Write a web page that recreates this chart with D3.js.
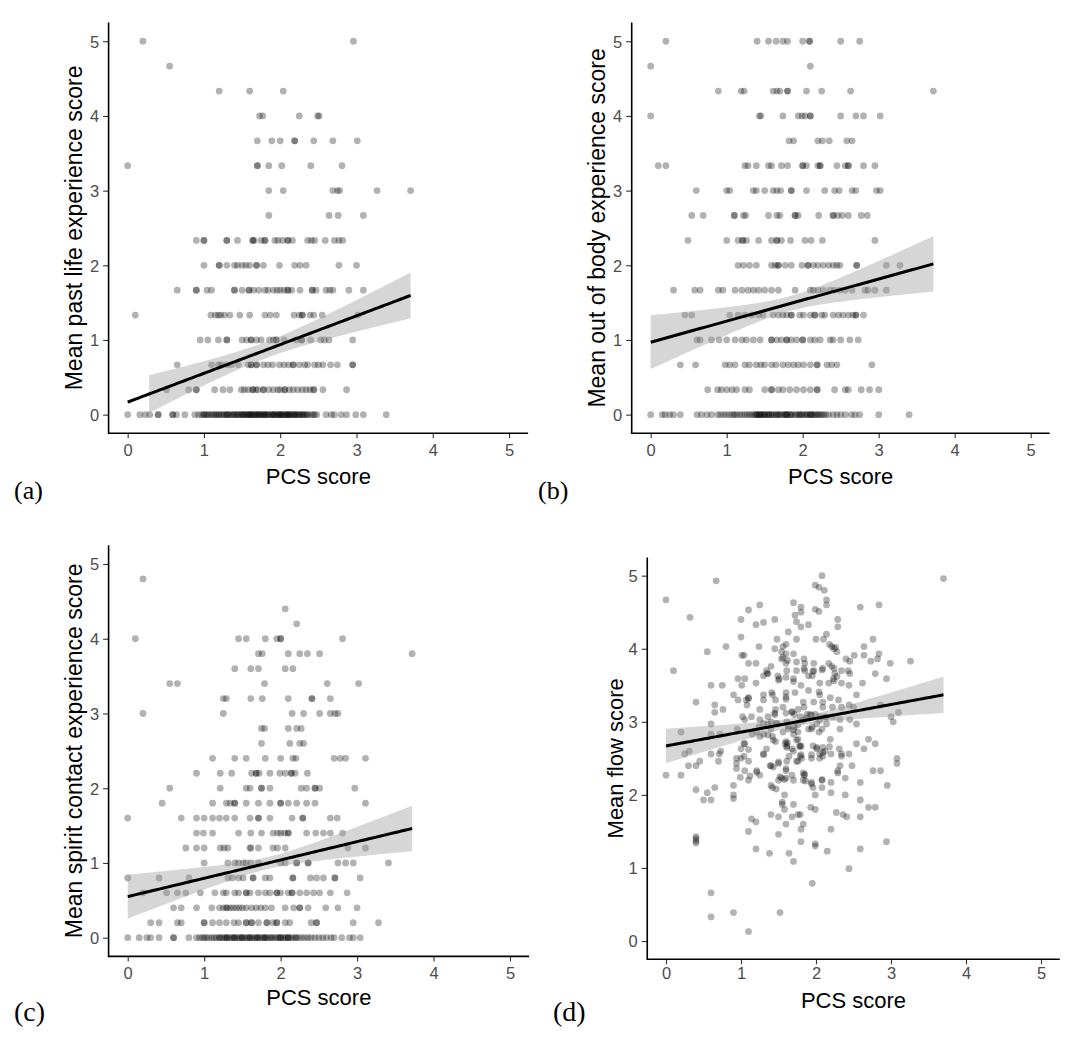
<!DOCTYPE html>
<html><head><meta charset="utf-8">
<script src="https://cdn.jsdelivr.net/npm/d3@7"></script>
<style>body{margin:0;background:#fff}svg{display:block}</style>
</head><body>
<svg id="chart" width="1082" height="1044"></svg>
<script>
// ---------------- DATA ----------------
const xTickValues = [0, 1, 2, 3, 4, 5];
const yTickValues = [0, 1, 2, 3, 4, 5];
const xTitle = "PCS score";
const yTitles = ["Mean past life experience score", "Mean out of body experience score",
                 "Mean spirit contact experience score", "Mean flow score"];
const panelTags = ["(a)", "(b)", "(c)", "(d)"];

// (a) past life: y levels and PCS values in each level
const pastLifeLevels = [0, 1/3, 2/3, 1, 4/3, 5/3, 2, 7/3, 8/3, 3, 10/3, 11/3, 4, 13/3, 14/3, 5];
const pastLifeX = [
 [0,0.16,0.23,0.29,0.40,0.40,0.59,0.59,0.64,0.75,0.88,0.93,0.97,1.0,1.0,1.03,1.07,1.1,1.12,1.15,1.19,1.2,1.23,1.27,1.3,1.3,1.34,1.37,1.4,1.42,1.45,1.47,1.5,1.5,1.53,1.55,1.58,1.6,1.6,1.63,1.65,1.68,1.7,1.7,1.72,1.75,1.78,1.8,1.8,1.82,1.85,1.88,1.9,1.9,1.93,1.95,1.98,2.0,2.0,2.03,2.05,2.08,2.1,2.1,2.13,2.15,2.18,2.2,2.2,2.23,2.26,2.3,2.3,2.33,2.36,2.4,2.43,2.45,2.48,2.6,2.67,2.71,2.8,2.87,2.99,3.09,3.39,
  1.05,1.16,1.25,1.32,1.38,1.44,1.52,1.57,1.62,1.66,1.73,1.77,1.84,1.92,1.97,2.02,2.07,2.12,2.17,2.24,2.28,2.35],
 [0.51,0.8,0.9,0.9,1.14,1.25,1.34,1.49,1.53,1.58,1.64,1.64,1.68,1.71,1.78,1.78,1.85,1.91,1.97,2.0,2.06,2.06,2.12,2.17,2.23,2.29,2.34,2.39,2.44,2.44,2.56,2.87],
 [0.65,1.10,1.19,1.23,1.30,1.36,1.45,1.58,1.62,1.62,1.69,1.69,1.78,1.84,1.9,1.99,2.05,2.11,2.17,2.17,2.25,2.32,2.36,2.45,2.5,2.56,2.66,2.75,2.95,2.95],
 [0.95,1.05,1.19,1.30,1.30,1.5,1.56,1.62,1.62,1.69,1.75,1.86,1.91,1.95,1.95,2.05,2.21,2.28,2.28,2.40,2.53,2.58,2.64,2.95],
 [0.1,1.09,1.15,1.19,1.22,1.27,1.34,1.47,1.60,1.80,1.87,1.95,2.18,2.25,2.29,2.29,2.39,2.44,2.55,3.02],
 [0.65,0.90,0.90,1.04,1.10,1.40,1.40,1.5,1.59,1.59,1.65,1.72,1.80,1.84,1.91,1.96,2.0,2.05,2.10,2.10,2.15,2.26,2.42,2.42,2.47,2.60,2.65,2.69,2.90,3.09],
 [1.0,1.20,1.20,1.30,1.40,1.44,1.5,1.55,1.60,1.69,1.69,1.78,1.99,2.19,2.26,2.34,2.77,3.0],
 [0.90,1.0,1.0,1.30,1.30,1.44,1.64,1.64,1.66,1.75,1.80,1.80,1.93,1.97,2.03,2.10,2.10,2.16,2.36,2.41,2.45,2.59,2.71,2.77,2.82],
 [1.85,2.64,2.76,3.09],
 [1.85,2.04,2.69,2.75,2.78,3.27,3.71],
 [0,1.70,1.70,1.85,2.02,2.40,2.81],
 [1.70,1.89,2.0,2.19,2.19,2.44,2.69,3.01],
 [1.73,1.77,2.25,2.49,2.51],
 [1.2,1.6,2.04],
 [0.55],
 [0.2,2.96]
];

// (b) out of body
const outOfBodyLevels = [0, 1/3, 2/3, 1, 4/3, 5/3, 2, 7/3, 8/3, 3, 10/3, 11/3, 4, 13/3, 14/3, 5];
const outOfBodyX = [
 [0,0.15,0.19,0.25,0.30,0.39,0.61,0.67,0.74,0.80,0.88,0.92,0.96,1.0,1.04,1.08,1.1,1.13,1.17,1.2,1.24,1.27,1.3,1.33,1.36,1.4,1.4,1.43,1.43,1.46,1.48,1.5,1.5,1.53,1.56,1.58,1.6,1.62,1.65,1.68,1.7,1.72,1.75,1.78,1.79,1.8,1.83,1.86,1.9,1.92,1.95,1.98,2.0,2.03,2.06,2.1,2.1,2.13,2.16,2.2,2.22,2.25,2.3,2.34,2.4,2.45,2.5,2.56,2.64,2.69,2.75,3.0,3.4,
  1.38,1.45,1.55,1.66,1.77,1.85,1.96,2.05,2.12,2.18,2.27],
 [0.75,0.88,0.93,1.0,1.07,1.13,1.24,1.30,1.50,1.59,1.59,1.68,1.74,1.83,1.92,2.01,2.10,2.19,2.19,2.42,2.56,2.60,2.77,2.88,3.0],
 [0.39,0.59,0.98,1.04,1.11,1.24,1.30,1.39,1.45,1.5,1.59,1.65,1.74,1.81,1.88,1.94,2.01,2.10,2.19,2.19,2.32,2.38,2.45,2.91],
 [0.61,0.65,0.80,0.90,1.0,1.11,1.20,1.26,1.35,1.44,1.59,1.59,1.66,1.72,1.79,1.79,1.85,1.92,2.0,2.0,2.10,2.16,2.23,2.36,2.40,2.50,2.62,2.73],
 [0.45,0.54,1.04,1.15,1.24,1.33,1.42,1.48,1.61,1.68,1.74,1.79,1.85,1.85,1.96,2.01,2.10,2.16,2.16,2.25,2.29,2.40,2.47,2.53,2.60,2.66,2.70,2.70,2.80],
 [0.30,0.58,0.65,0.89,0.95,1.11,1.20,1.28,1.35,1.42,1.50,1.59,1.68,1.90,2.10,2.14,2.20,2.27,2.36,2.42,2.49,2.56,2.65,2.82,2.86,2.95,3.10],
 [1.15,1.22,1.30,1.39,1.59,1.64,1.68,1.68,1.77,1.85,1.99,2.07,2.07,2.14,2.20,2.27,2.34,2.40,2.45,2.49,2.71,2.71,3.10,3.28],
 [0.49,1.0,1.15,1.21,1.21,1.26,1.42,1.59,1.66,1.66,1.72,1.84,2.03,2.11,2.26,2.95],
 [0.54,0.69,1.10,1.10,1.22,1.25,1.55,1.66,1.70,1.90,1.90,1.94,2.21,2.40,2.40,2.46,2.52,2.60,2.77,2.85],
 [0.60,1.0,1.04,1.35,1.39,1.50,1.61,1.66,1.71,1.85,1.85,2.05,2.29,2.42,2.48,2.65,2.70,2.97,3.02],
 [0.10,0.20,1.24,1.28,1.39,1.55,1.59,1.72,1.80,2.0,2.0,2.05,2.20,2.23,2.23,2.45,2.56,2.60,2.60,2.80,2.95],
 [1.82,1.88,2.20,2.26,2.35,2.58,2.65],
 [0,1.43,1.45,1.74,1.94,1.99,2.03,2.10,2.10,2.50,2.70,2.80,3.02],
 [0.89,1.19,1.23,1.61,1.66,1.70,1.80,1.80,2.05,2.25,2.63,3.72],
 [0,2.10],
 [0.20,1.40,1.55,1.65,1.74,1.80,2.0,2.09,2.09,2.50,2.75]
];

// (c) spirit contact
const spiritLevels = [0,0.2,0.4,0.6,0.8,1.0,1.2,1.4,1.6,1.8,2.0,2.2,2.4,2.6,2.8,3.0,3.2,3.4,3.6,3.8,4.0,4.2,4.4,4.8];
const spiritX = [
 [0,0.15,0.25,0.30,0.41,0.60,0.60,0.80,0.9,0.94,0.98,1.0,1.03,1.06,1.1,1.13,1.16,1.2,1.2,1.23,1.26,1.3,1.3,1.33,1.36,1.4,1.4,1.43,1.46,1.5,1.5,1.53,1.56,1.6,1.6,1.63,1.66,1.7,1.7,1.73,1.76,1.8,1.8,1.83,1.86,1.9,1.93,1.96,2.0,2.0,2.03,2.06,2.1,2.1,2.13,2.16,2.2,2.2,2.24,2.28,2.32,2.36,2.4,2.45,2.5,2.55,2.6,2.66,2.7,2.8,2.9,2.95,3.04,
  1.28,1.38,1.48,1.58,1.68,1.78,1.88,1.98,2.08],
 [0.30,0.41,0.65,0.70,1.0,1.0,1.11,1.20,1.29,1.39,1.45,1.55,1.55,1.62,1.62,1.71,1.82,1.82,1.9,1.95,1.95,2.06,2.12,2.40,2.47,2.47,2.95,3.28],
 [0.60,0.70,0.90,1.10,1.20,1.25,1.29,1.3,1.34,1.38,1.42,1.46,1.5,1.55,1.62,1.68,1.74,1.80,1.88,2.06,2.17,2.25,2.25,2.36,2.59,2.75,3.0],
 [0.20,0.51,0.65,0.76,0.95,1.14,1.25,1.29,1.40,1.45,1.55,1.55,1.6,1.71,1.80,1.86,1.95,1.95,2.0,2.10,2.15,2.15,2.25,2.34,2.43,2.51,2.65,2.87],
 [0,0.41,0.80,1.31,1.37,1.45,1.51,1.64,1.64,1.8,1.86,2.16,2.16,2.39,2.47,2.56,2.71,2.71,3.04],
 [1.0,1.31,1.40,1.45,1.51,1.55,1.61,1.71,2.0,2.06,2.21,2.21,2.36,2.36,2.75,2.85,2.95,3.41],
 [0.76,0.90,1.0,1.21,1.26,1.31,1.6,1.61,1.71,1.90,1.96,2.06,2.88,3.11],
 [0.90,0.99,1.11,1.45,1.61,1.75,1.90,1.96,2.0,2.05,2.10,2.10,2.34,2.46,2.56,2.65,2.81],
 [0,0.70,0.90,1.0,1.11,1.20,1.29,1.40,1.60,1.71,1.71,1.86,2.15,2.29,2.29,2.65,2.74],
 [0.45,1.11,1.29,1.34,1.40,1.40,1.55,1.71,1.86,2.0,2.0,2.10,2.21,2.34,2.45,3.11],
 [0.55,1.21,1.55,1.60,1.75,1.75,1.86,2.27,2.34,2.45,2.45,2.51,2.97],
 [0.90,1.21,1.36,1.62,1.68,1.68,1.72,1.86,1.99,2.06,2.14,2.14,2.19,2.35],
 [1.11,1.40,1.55,1.80,2.0,2.16,2.20,2.70,2.78,2.85,3.11],
 [1.75,2.12,2.25,2.30],
 [1.75,1.79,2.10,2.21,2.27],
 [0.20,1.25,2.15,2.30,2.51,2.65,2.71,2.75],
 [1.25,1.29,1.61,1.76,2.10,2.41,2.41,2.65],
 [0.55,0.65,1.79,2.61,3.02],
 [1.40,1.61,1.71,2.06,2.16],
 [1.71,1.76,2.10,2.25,2.35,2.51,3.72],
 [0.10,1.45,1.55,1.80,1.95,2.0,2.0,2.81],
 [2.21],
 [2.06],
 [0.20]
];

// (d) flow: [PCS, flow]
const flowData = [[2.08,5.0],[3.70,4.96],[0.67,4.93],[0.0,4.67],[1.99,4.87],[2.04,4.84],[2.11,4.80],[2.14,4.67],[1.70,4.63],[1.80,4.57],[1.80,4.50],[1.72,4.46],[1.99,4.54],[2.04,4.51],[2.14,4.60],[2.59,4.57],[2.84,4.60],[1.10,4.53],[1.25,4.60],[0.32,4.43],[1.0,4.40],[1.20,4.33],[1.30,4.36],[1.45,4.40],[1.74,4.37],[1.80,4.30],[1.90,4.33],[2.29,4.40],[2.29,4.30],[1.63,4.23],[1.0,4.16],[1.48,4.13],[1.60,4.06],[1.56,4.03],[1.74,4.13],[2.0,4.13],[2.10,4.13],[2.14,4.20],[2.18,4.06],[2.21,4.03],[2.24,4.0],[2.64,4.03],[2.76,4.13],[0.80,4.03],[1.24,4.03],[0.55,3.96],[1.01,3.91],[1.04,3.91],[1.45,4.0],[1.54,3.96],[1.60,3.93],[1.70,3.93],[1.84,3.86],[1.85,3.80],[1.54,3.86],[1.60,3.80],[1.97,3.80],[2.17,3.80],[2.21,3.76],[2.28,3.96],[2.40,3.86],[2.45,3.83],[2.51,3.91],[2.64,3.91],[2.73,3.83],[2.82,3.86],[2.84,3.93],[2.99,3.80],[3.26,3.83],[0.10,3.70],[1.10,3.80],[1.20,3.80],[1.40,3.76],[1.34,3.70],[1.36,3.66],[1.30,3.63],[1.61,3.70],[1.74,3.70],[1.84,3.73],[1.85,3.70],[1.97,3.70],[2.09,3.73],[2.25,3.66],[2.34,3.70],[2.43,3.70],[2.23,3.59],[2.24,3.56],[2.34,3.53],[2.45,3.66],[2.79,3.66],[2.94,3.59],[0.96,3.59],[1.05,3.59],[1.20,3.53],[1.51,3.59],[1.49,3.63],[1.70,3.59],[1.80,3.50],[1.90,3.63],[1.95,3.63],[2.05,3.53],[2.44,3.50],[2.62,3.53],[0.60,3.50],[0.75,3.50],[1.01,3.50],[0.90,3.37],[0.96,3.30],[1.07,3.30],[1.10,3.33],[1.30,3.37],[1.30,3.30],[1.41,3.40],[1.42,3.37],[1.46,3.30],[1.60,3.40],[1.60,3.34],[1.60,3.31],[1.72,3.40],[1.90,3.43],[2.04,3.41],[2.05,3.37],[2.19,3.33],[2.30,3.30],[2.54,3.37],[0.40,3.27],[0.65,3.23],[0.76,3.17],[0.65,3.13],[1.08,3.23],[1.25,3.17],[1.46,3.17],[1.56,3.20],[1.83,3.27],[1.84,3.20],[1.76,3.17],[1.97,3.27],[2.09,3.27],[2.09,3.20],[2.22,3.20],[2.34,3.20],[2.44,3.23],[2.50,3.20],[2.86,3.23],[3.10,3.13],[0.60,2.97],[0.72,2.83],[0.60,2.83],[1.02,3.07],[1.14,3.07],[1.05,3.03],[1.25,3.03],[1.36,3.07],[1.45,3.10],[1.68,3.13],[1.71,3.10],[1.79,3.07],[1.88,3.10],[1.92,3.10],[1.99,3.10],[2.05,3.07],[2.12,3.07],[2.23,3.07],[2.32,3.03],[2.45,3.03],[2.54,2.97],[3.00,3.07],[3.03,3.00],[0.20,2.86],[0.95,2.90],[1.24,2.93],[1.36,2.97],[1.40,2.90],[1.48,2.97],[1.61,3.00],[1.71,2.93],[1.76,2.86],[1.90,2.90],[1.95,2.93],[2.01,2.97],[2.08,2.90],[2.14,2.97],[2.32,2.90],[1.15,2.83],[1.21,2.86],[1.30,2.83],[1.42,2.80],[1.46,2.73],[1.56,2.86],[1.63,2.90],[1.70,2.83],[1.76,2.76],[2.04,2.86],[2.19,2.76],[2.70,2.76],[2.79,2.70],[0.25,2.56],[0.31,2.60],[0.60,2.56],[0.71,2.56],[0.73,2.60],[1.0,2.63],[1.04,2.70],[1.34,2.63],[1.30,2.56],[1.60,2.73],[1.59,2.70],[1.61,2.67],[1.68,2.63],[1.78,2.67],[1.80,2.67],[1.96,2.67],[2.01,2.63],[2.12,2.60],[2.05,2.56],[2.31,2.63],[2.34,2.56],[2.44,2.56],[2.54,2.70],[2.64,2.63],[0.30,2.40],[0.40,2.40],[0.45,2.46],[0.70,2.46],[0.94,2.50],[0.94,2.43],[0.94,2.36],[1.10,2.46],[1.04,2.53],[1.0,2.50],[1.39,2.40],[1.50,2.43],[1.61,2.46],[1.64,2.53],[1.74,2.46],[1.76,2.46],[1.79,2.53],[1.81,2.50],[1.94,2.50],[2.05,2.50],[2.09,2.53],[2.18,2.66],[2.20,2.56],[2.32,2.40],[2.34,2.53],[2.48,2.40],[2.76,2.33],[2.86,2.33],[3.08,2.50],[3.08,2.43],[0.0,2.27],[0.20,2.27],[0.40,2.07],[0.55,2.03],[0.65,2.10],[0.50,1.93],[0.60,1.93],[1.05,2.33],[1.10,2.20],[1.21,2.33],[1.25,2.27],[1.40,2.40],[1.40,2.13],[1.42,2.10],[1.50,2.20],[1.54,2.23],[1.60,2.23],[1.60,2.33],[1.68,2.27],[1.70,2.20],[1.83,2.30],[1.84,2.27],[1.83,2.20],[1.94,2.17],[1.96,2.10],[2.08,2.20],[2.20,2.17],[2.29,2.30],[2.29,2.33],[2.39,2.23],[2.59,2.17],[2.95,2.13],[0.90,2.13],[0.90,2.00],[1.58,2.00],[1.99,2.00],[2.20,2.03],[2.39,2.00],[1.55,1.90],[1.55,1.87],[1.58,1.80],[1.70,1.87],[1.79,1.73],[1.40,1.73],[1.50,1.70],[1.60,1.60],[1.68,1.70],[1.76,1.73],[1.83,1.60],[1.80,1.53],[1.93,1.83],[1.99,1.80],[2.27,1.76],[2.36,1.73],[2.41,1.70],[2.20,1.53],[2.59,1.93],[2.59,1.70],[2.70,1.83],[2.79,1.83],[1.14,1.67],[1.20,1.63],[1.10,1.50],[1.50,1.46],[0.40,1.43],[0.40,1.40],[0.40,1.37],[0.40,1.34],[1.80,1.36],[1.99,1.33],[1.99,1.30],[2.15,1.23],[1.20,1.26],[1.38,1.20],[1.64,1.20],[1.70,1.09],[2.59,1.26],[2.94,1.36],[2.44,0.99],[1.95,0.79],[0.60,0.66],[0.60,0.33],[0.90,0.39],[1.52,0.39],[1.10,0.13],
 [1.12,2.26],[1.21,2.31],[0.99,2.24],[0.90,1.95],[1.52,2.25],[1.58,2.21],[1.47,2.08],[1.86,2.19],[1.85,2.28],[2.08,2.10],[2.08,2.21],[1.94,2.15],[1.43,2.38],[1.50,2.45],[1.60,2.36],[1.30,2.55],[1.10,2.62],[1.05,2.70],[1.61,2.65],[1.70,2.60],[1.79,2.66],[1.80,2.55],[1.94,2.55],[2.09,2.58],[2.09,2.65],[2.01,2.65],[1.74,2.75],[1.62,2.71],[1.25,2.80],[1.36,2.82],[1.43,2.75],[1.30,2.98],[1.40,3.00],[1.47,2.98],[1.63,2.94],[1.70,2.89],[1.76,2.96],[1.83,3.02],[1.87,3.05],[1.94,3.09],[2.05,3.02],[2.14,3.06],[1.94,2.90],[1.60,3.12],[1.68,3.14],[1.45,3.12],[1.10,3.32],[1.60,3.61],[1.70,3.55],[1.62,3.84],[1.56,3.88],[1.74,3.82],[2.17,3.53],[2.28,3.62],[2.24,3.73],[2.26,4.02],[1.96,3.69],[2.08,3.71],[1.35,3.66],[1.50,3.57]];

// fitted linear smooth: intercept, slope, CI half-width parameters
const fitIntercept = [0.168, 0.97, 0.55, 2.67];
const fitSlope     = [0.385, 0.282, 0.245, 0.189];
const bandCenter   = [1.8, 1.83, 1.83, 1.8];
const bandH0       = [0.11, 0.10, 0.08, 0.06];
const bandK        = [0.15, 0.189, 0.155, 0.127];

// ---------------- LAYOUT ----------------
const layouts = [
 {left:108.6, right:528.1, top:22.6, bottom:433.3, yTitleX:82, yTitleSize:23, xTitleY:483.5, tickLabY:456.5, tagX:14, tagY:499, tagSize:26},
 {left:631.7, right:1049.7, top:22.6, bottom:433.3, yTitleX:605, yTitleSize:23, xTitleY:483.5, tickLabY:456.5, tagX:538, tagY:499, tagSize:26},
 {left:108.6, right:529.1, top:545.3, bottom:956.4, yTitleX:82, yTitleSize:23, xTitleY:1005, tickLabY:979, tagX:14, tagY:1021, tagSize:28},
 {left:647.25, right:1059.75, top:557.4, bottom:959.3, yTitleX:623, yTitleSize:22, xTitleY:1008, tickLabY:979, tagX:553, tagY:1021, tagSize:28}
];

const levelPoints = (levels, rows) => levels.flatMap((lv, i) => rows[i].map(x => ({x, y: lv})));
const panelPoints = [
  levelPoints(pastLifeLevels, pastLifeX),
  levelPoints(outOfBodyLevels, outOfBodyX),
  levelPoints(spiritLevels, spiritX),
  flowData.map(d => ({x: d[0], y: d[1]}))
];

const svg = d3.select("#chart");
const FONT = "'Liberation Sans', Arial, Helvetica, sans-serif";

panelPoints.forEach((pts, i) => {
  const L = layouts[i];
  const x = d3.scaleLinear().domain([-0.25, 5.25]).range([L.left, L.right]);
  const y = d3.scaleLinear().domain([-0.25, 5.25]).range([L.bottom, L.top]);
  const g = svg.append("g");

  // points
  g.append("g").selectAll("circle").data(pts).join("circle")
    .attr("cx", d => x(d.x)).attr("cy", d => y(d.y)).attr("r", 3.4)
    .attr("fill", "#000").attr("fill-opacity", 0.3);

  // smooth
  const xmin = d3.min(pts, d => d.x), xmax = d3.max(pts, d => d.x);
  const grid = d3.range(80).map(k => xmin + (xmax - xmin) * k / 79);
  const fit = grid.map(gx => {
    const m = fitIntercept[i] + fitSlope[i] * gx;
    const hw = Math.sqrt(bandH0[i] ** 2 + bandK[i] ** 2 * (gx - bandCenter[i]) ** 2);
    return {x: gx, m, lo: m - hw, hi: m + hw};
  });
  const band = fit.filter(d => d.lo >= 0 && d.hi <= 5);
  g.append("path").datum(band)
    .attr("d", d3.area().x(d => x(d.x)).y0(d => y(d.lo)).y1(d => y(d.hi)))
    .attr("fill", "#999999").attr("fill-opacity", 0.4);
  g.append("path").datum(fit)
    .attr("d", d3.line().x(d => x(d.x)).y(d => y(d.m)))
    .attr("fill", "none").attr("stroke", "#000").attr("stroke-width", 3);

  // axes
  const xAxis = g.append("g").attr("transform", `translate(0,${L.bottom})`)
    .call(d3.axisBottom(x).tickValues(xTickValues).tickSize(5).tickPadding(0).tickFormat(d3.format("d")));
  const yAxis = g.append("g").attr("transform", `translate(${L.left},0)`)
    .call(d3.axisLeft(y).tickValues(yTickValues).tickSize(5.5).tickPadding(4).tickFormat(d3.format("d")));
  [xAxis, yAxis].forEach(a => {
    a.select(".domain").remove();
    a.selectAll(".tick line").attr("stroke", "#333").attr("stroke-width", 1.1);
    a.selectAll(".tick text").attr("fill", "#4D4D4D").style("font-family", FONT).style("font-size", "16.5px");
  });
  xAxis.selectAll(".tick text").attr("dy", null).attr("y", L.tickLabY - L.bottom);
  yAxis.selectAll(".tick text").attr("dy", "0.36em");
  g.append("line").attr("x1", L.left).attr("x2", L.right).attr("y1", L.bottom).attr("y2", L.bottom)
    .attr("stroke", "#000").attr("stroke-width", 1.6);
  g.append("line").attr("x1", L.left).attr("x2", L.left).attr("y1", L.top).attr("y2", L.bottom + 0.8)
    .attr("stroke", "#000").attr("stroke-width", 1.6);

  // titles
  g.append("text").attr("x", (L.left + L.right) / 2).attr("y", L.xTitleY)
    .attr("text-anchor", "middle").style("font-family", FONT).style("font-size", "22px").text(xTitle);
  g.append("text").attr("transform", `translate(${L.yTitleX},${(L.top + L.bottom) / 2}) rotate(-90)`)
    .attr("text-anchor", "middle").style("font-family", FONT).style("font-size", L.yTitleSize + "px").text(yTitles[i]);
  g.append("text").attr("x", L.tagX).attr("y", L.tagY)
    .style("font-family", "'Liberation Serif', 'Times New Roman', serif").style("font-size", L.tagSize + "px").text(panelTags[i]);
});
</script>
</body></html>
